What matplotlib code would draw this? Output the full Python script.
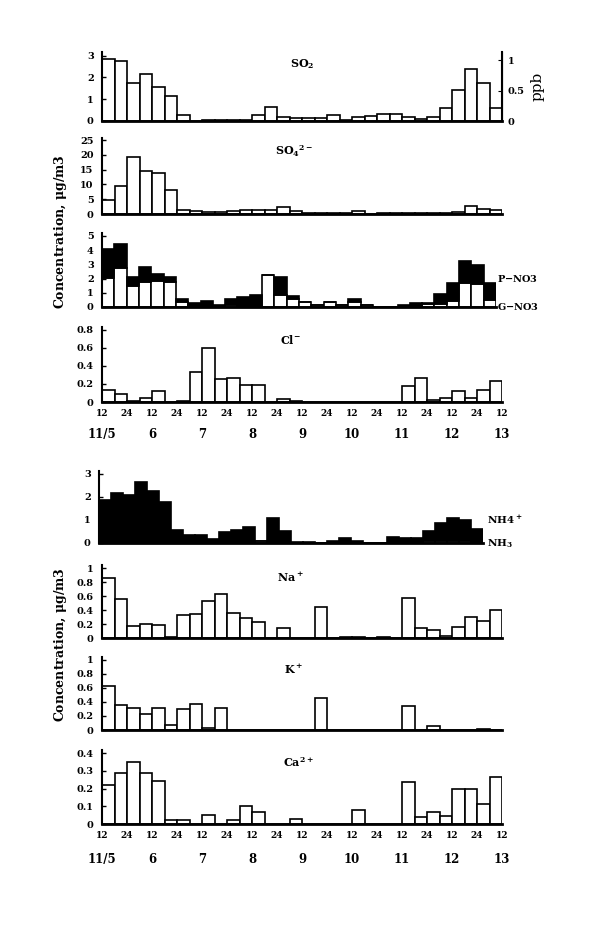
import matplotlib
matplotlib.use('Agg')

import matplotlib.pyplot as plt
import numpy as np

# ---------------- data (6-hour samples, 11/5 12h -> 11/13 12h) ----------------
so2 = [2.85, 2.77, 1.73, 2.14, 1.58, 1.15, 0.28, 0.0, 0.05, 0.05, 0.05, 0.03,
       0.28, 0.66, 0.2, 0.15, 0.12, 0.15, 0.28, 0.05, 0.17, 0.23, 0.32, 0.32,
       0.17, 0.11, 0.2, 0.58, 1.42, 2.37, 1.73, 0.61]
so4 = [4.8, 9.3, 19.4, 14.4, 13.7, 8.0, 1.35, 1.1, 0.8, 0.7, 1.0, 1.35,
       1.35, 1.5, 2.2, 0.9, 0.3, 0.2, 0.2, 0.3, 1.1, 0.1, 0.2, 0.3,
       0.45, 0.5, 0.45, 0.45, 0.8, 2.7, 1.8, 1.35]
g_no3 = [2.05, 2.76, 1.49, 1.77, 1.82, 1.77, 0.35, 0.05, 0.05, 0.0, 0.15, 0.1,
         0.1, 2.24, 0.87, 0.54, 0.35, 0.12, 0.35, 0.12, 0.35, 0.12, 0.0, 0.0,
         0.0, 0.1, 0.2, 0.2, 0.4, 1.72, 1.65, 0.47]
p_no3 = [2.03, 1.67, 0.63, 1.06, 0.47, 0.35, 0.24, 0.26, 0.35, 0.17, 0.4, 0.61,
         0.77, 0.0, 1.25, 0.24, 0.0, 0.0, 0.0, 0.0, 0.19, 0.0, 0.0, 0.0,
         0.12, 0.2, 0.1, 0.7, 1.32, 1.53, 1.3, 1.25]
cl = [0.13, 0.09, 0.01, 0.045, 0.12, 0.0, 0.01, 0.33, 0.6, 0.26, 0.27, 0.19,
      0.19, 0.0, 0.03, 0.01, 0.0, 0.0, 0.0, 0.0, 0.0, 0.0, 0.0, 0.0,
      0.18, 0.27, 0.02, 0.045, 0.12, 0.045, 0.13, 0.23]
nh3 = [0.0, 0.0, 0.0, 0.0, 0.0, 0.0, 0.0, 0.0, 0.0, 0.0, 0.0, 0.0,
       0.0, 0.08, 0.0, 0.0, 0.02, 0.02, 0.0, 0.0, 0.0, 0.0, 0.0, 0.0,
       0.0, 0.0, 0.0, 0.1, 0.1, 0.1, 0.1, 0.0]
nh4 = [1.88, 2.17, 2.1, 2.65, 2.27, 1.77, 0.55, 0.36, 0.36, 0.17, 0.46, 0.55,
       0.7, 0.0, 1.09, 0.51, 0.01, 0.01, 0.0, 0.07, 0.22, 0.07, 0.0, 0.0,
       0.26, 0.22, 0.22, 0.44, 0.77, 0.99, 0.89, 0.61]
na = [0.86, 0.56, 0.17, 0.2, 0.18, 0.01, 0.33, 0.35, 0.53, 0.63, 0.36, 0.29,
      0.23, 0.0, 0.15, 0.0, 0.0, 0.44, 0.0, 0.01, 0.01, 0.0, 0.01, 0.0,
      0.57, 0.15, 0.12, 0.03, 0.16, 0.3, 0.25, 0.4]
k = [0.63, 0.35, 0.31, 0.23, 0.31, 0.07, 0.3, 0.37, 0.03, 0.32, 0.0, 0.0,
     0.0, 0.0, 0.0, 0.0, 0.0, 0.45, 0.0, 0.0, 0.0, 0.0, 0.0, 0.0,
     0.34, 0.0, 0.05, 0.0, 0.0, 0.0, 0.02, 0.0]
ca = [0.22, 0.29, 0.35, 0.29, 0.24, 0.02, 0.02, 0.0, 0.05, 0.0, 0.02, 0.1,
      0.065, 0.0, 0.0, 0.03, 0.0, 0.0, 0.0, 0.0, 0.08, 0.0, 0.0, 0.0,
      0.235, 0.04, 0.065, 0.045, 0.195, 0.195, 0.11, 0.265]

hour_labels = ['12', '24'] * 8 + ['12']
day_labels = ['11/5', '6', '7', '8', '9', '10', '11', '12', '13']

plt.rcParams['font.family'] = 'DejaVu Serif'
plt.rcParams['font.weight'] = 'bold'
plt.rcParams['mathtext.fontset'] = 'dejavuserif'
plt.rcParams['mathtext.default'] = 'bf'

W, H = 608, 938
fig = plt.figure(figsize=(W / 100, H / 100), dpi=100)
x = np.arange(32) + 0.5


def make_ax(left, right, top, base, ymax, yticks, ylabels, title=None, tx=0.5):
    ax = fig.add_axes([left / W, 1 - base / H, (right - left) / W, (base - top) / H])
    ax.set_xlim(0, 32)
    ax.set_ylim(0, ymax)
    for s in ['top', 'right']:
        ax.spines[s].set_visible(False)
    ax.spines['left'].set_linewidth(1.5)
    ax.spines['bottom'].set_linewidth(2.0)
    ax.set_yticks(yticks)
    ax.set_yticklabels(ylabels)
    ax.tick_params(axis='y', direction='in', length=3, width=1, labelsize=7, pad=6)
    ax.set_xticks(np.arange(0, 33, 2))
    ax.tick_params(axis='x', length=0, labelbottom=False)
    if title:
        ax.text(tx, 0.83, title, transform=ax.transAxes, ha='center', va='center', fontsize=8)
    return ax


def bars(ax, vals, color='white', bottom=None):
    ax.bar(x, vals, width=1.0, bottom=bottom, color=color, edgecolor='black', linewidth=1.2)


def hour_axis(ax, y_days):
    ax.tick_params(axis='x', labelbottom=True, labelsize=6.5, pad=5)
    ax.set_xticklabels(hour_labels)
    for i, d in enumerate(day_labels):
        ax.text(i * 4, y_days, d, transform=ax.get_xaxis_transform(),
                ha='center', va='center', fontsize=8.5)


# ---- upper group ----
ax1 = make_ax(102, 502, 52, 121, 3.17, [0, 1, 2, 3], ['0', '1', '2', '3'], r'SO$_2$', 0.5)
bars(ax1, so2)
ax1.spines['right'].set_visible(True)
ax1.spines['right'].set_linewidth(1.5)
sec = ax1.secondary_yaxis('right', functions=(lambda v: v / 2.8, lambda v: v * 2.8))
sec.set_yticks([0, 0.5, 1])
sec.set_yticklabels(['0', '0.5', '1'])
sec.tick_params(direction='in', length=3, labelsize=7, pad=4)
sec.set_ylabel('ppb', fontsize=11, labelpad=4)

ax2 = make_ax(102, 502, 138, 214, 25.7, [0, 5, 10, 15, 20, 25],
              ['0', '5', '10', '15', '20', '25'], r'SO$_4$$^{2-}$', 0.48)
bars(ax2, so4)

ax3 = make_ax(102, 496, 233, 307, 5.2, [0, 1, 2, 3, 4, 5], ['0', '1', '2', '3', '4', '5'])
bars(ax3, g_no3)
bars(ax3, p_no3, color='black', bottom=g_no3)
ax3.text(32.1, 2.0, r'P$-$NO3', fontsize=7, va='center', ha='left')
ax3.text(32.1, 0.0, r'G$-$NO3', fontsize=7, va='center', ha='left')

ax4 = make_ax(102, 502, 327, 402, 0.833, [0, 0.2, 0.4, 0.6, 0.8],
              ['0', '0.2', '0.4', '0.6', '0.8'], r'Cl$^{-}$', 0.47)
bars(ax4, cl)
hour_axis(ax4, -0.43)

fig.text(0.100, 1 - 232 / H, r'Concentration, $\mu$g/m3', rotation=90,
         ha='center', va='center', fontsize=9)

# ---- lower group ----
ax5 = make_ax(99, 483, 471, 543, 3.13, [0, 1, 2, 3], ['0', '1', '2', '3'])
bars(ax5, nh3)
bars(ax5, nh4, color='black', bottom=nh3)
ax5.text(32.3, 1.0, r'NH4$^+$', fontsize=7.5, va='center', ha='left')
ax5.text(32.3, -0.05, r'NH$_3$', fontsize=7.5, va='center', ha='left')

ax6 = make_ax(102, 502, 565, 638, 1.043, [0, 0.2, 0.4, 0.6, 0.8, 1.0],
              ['0', '0.2', '0.4', '0.6', '0.8', '1'], r'Na$^+$', 0.47)
bars(ax6, na)

ax7 = make_ax(102, 502, 657, 730, 1.04, [0, 0.2, 0.4, 0.6, 0.8, 1.0],
              ['0', '0.2', '0.4', '0.6', '0.8', '1'], r'K$^+$', 0.48)
bars(ax7, k)

ax8 = make_ax(102, 502, 750, 824, 0.417, [0, 0.1, 0.2, 0.3, 0.4],
              ['0', '0.1', '0.2', '0.3', '0.4'], r'Ca$^{2+}$', 0.49)
bars(ax8, ca)
hour_axis(ax8, -0.48)

fig.text(0.100, 1 - 645 / H, r'Concentration, $\mu$g/m3', rotation=90,
         ha='center', va='center', fontsize=9)

plt.savefig('out.png', dpi=100)
plt.close()
